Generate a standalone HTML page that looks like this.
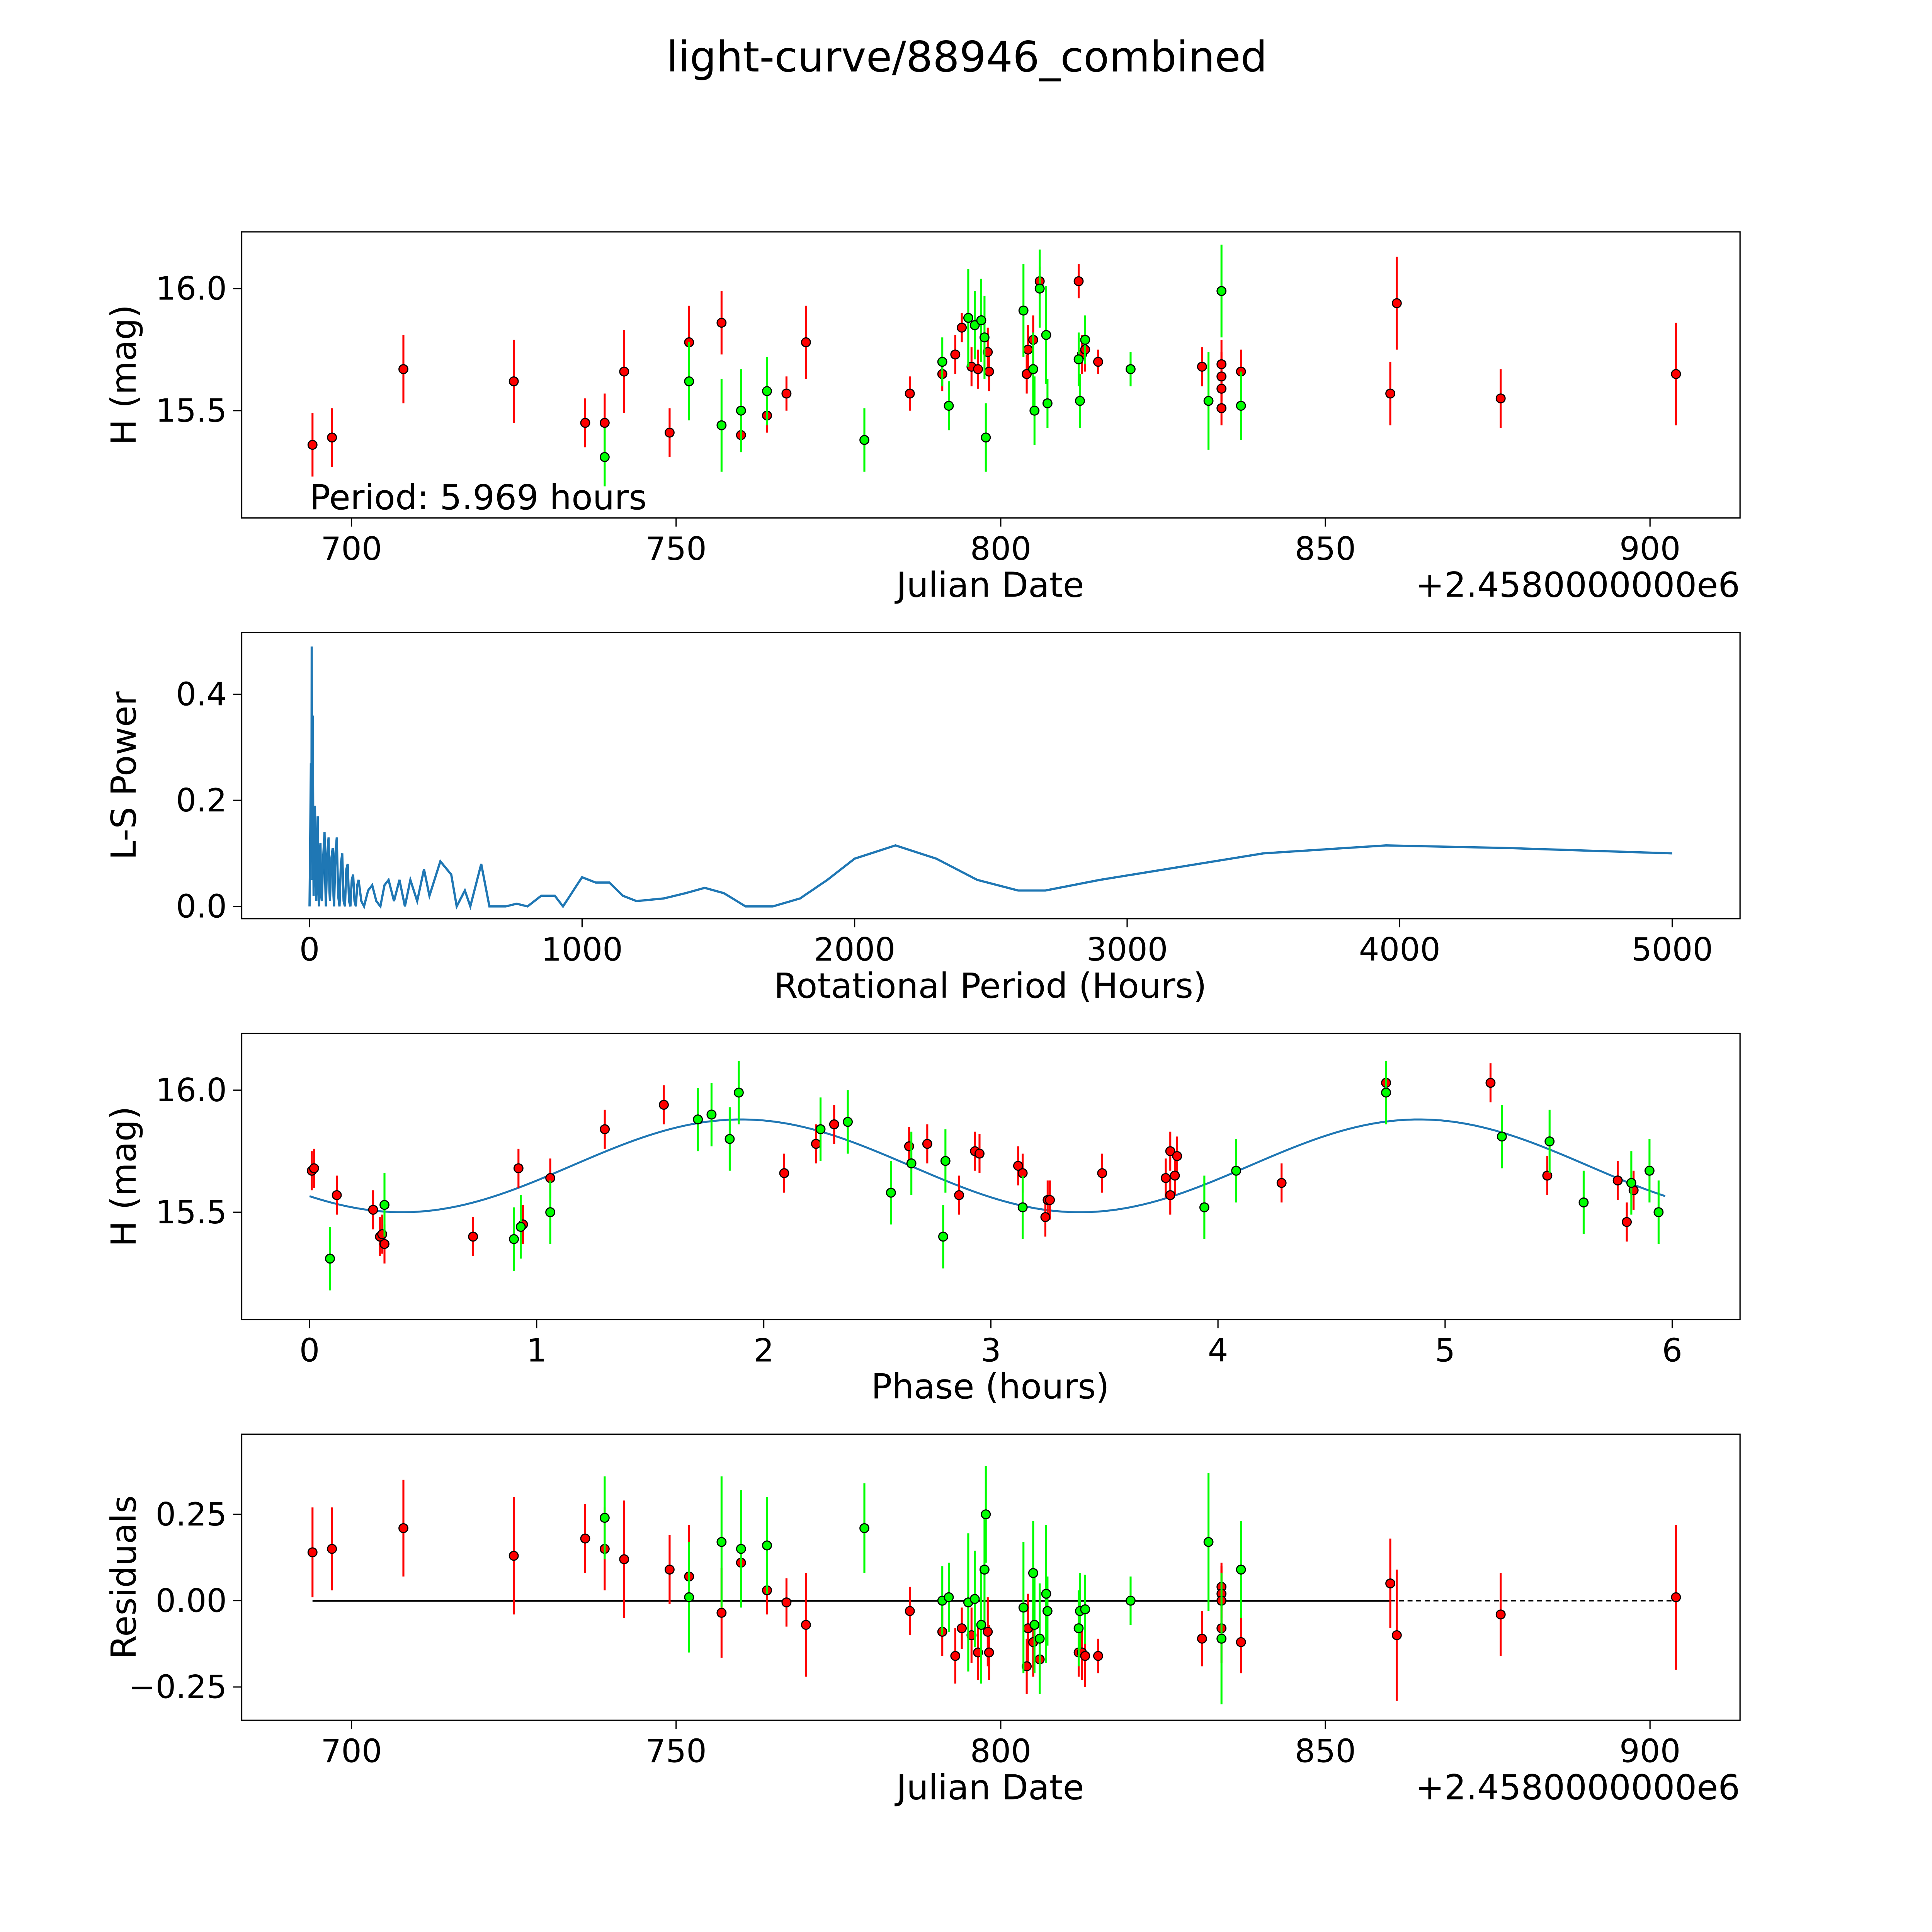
<!DOCTYPE html>
<html><head><meta charset="utf-8"><style>
html,body{margin:0;padding:0;background:#fff;overflow:hidden}
svg{display:block}
text{font-family:"DejaVu Sans","Liberation Sans",sans-serif;fill:#000}
</style></head><body>
<svg id="fig" width="5400" height="5400" viewBox="0 0 1692 1692" xmlns="http://www.w3.org/2000/svg">
<rect width="1692" height="1692" fill="#fff"/>
<text x="784" y="58" font-size="34" text-anchor="middle">light-curve/88946_combined</text>
</svg>
<script>
// ---- data ----
const lcRedJd=[694,697,708,725,736,739,742,749,752,757,760,764,767,770,786,791,793,794,795.5,796.5,798,798.2,804,804.2,805,806,812,812.5,813,815,831,834,834,834,834,837,860,861,877,904];
const lcRedMag=[15.36,15.39,15.67,15.62,15.45,15.45,15.66,15.41,15.78,15.86,15.4,15.48,15.57,15.78,15.57,15.65,15.73,15.84,15.68,15.67,15.74,15.66,15.65,15.75,15.79,16.03,16.03,15.73,15.75,15.7,15.68,15.51,15.59,15.64,15.69,15.66,15.57,15.94,15.55,15.65];
const lcRedErr=[0.13,0.12,0.14,0.17,0.1,0.12,0.17,0.1,0.15,0.13,0.05,0.07,0.07,0.15,0.07,0.07,0.08,0.06,0.08,0.08,0.1,0.08,0.08,0.1,0.1,0.06,0.07,0.08,0.09,0.05,0.08,0.07,0.07,0.1,0.1,0.09,0.13,0.19,0.12,0.21];
const lcGreenJd=[739,752,757,760,764,779,791,792,795,796,797,797.5,797.7,803.5,805,805.2,806,807,807.2,812,812.2,813,820,832,834,837];
const lcGreenMag=[15.31,15.62,15.44,15.5,15.58,15.38,15.7,15.52,15.88,15.85,15.87,15.8,15.39,15.91,15.67,15.5,16.0,15.81,15.53,15.71,15.54,15.79,15.67,15.54,15.99,15.52];
const lcGreenErr=[0.12,0.16,0.19,0.17,0.14,0.13,0.1,0.1,0.2,0.14,0.17,0.17,0.14,0.19,0.15,0.14,0.16,0.2,0.1,0.11,0.11,0.1,0.07,0.2,0.19,0.14];
const pgPeriod=[0,3,5,7,8,10,12,14,15,18,20,23,25,28,30,33,35,38,40,43,45,50,55,58,60,65,70,73,75,80,85,88,90,95,100,105,110,115,120,125,130,135,140,145,150,155,160,165,170,175,180,190,200,215,230,245,260,275,290,310,330,350,370,395,420,440,480,520,540,570,590,630,660,720,760,800,850,900,930,1000,1050,1100,1150,1200,1300,1380,1450,1520,1600,1700,1800,1900,2000,2150,2300,2450,2600,2700,2900,3200,3500,3950,4400,5000];
const pgPower=[0,0.15,0.27,0.1,0.49,0.05,0.36,0.1,0.02,0.15,0.19,0.05,0.01,0.12,0.17,0.03,0,0.1,0.12,0.02,0.01,0.09,0.14,0.04,0,0.1,0.13,0.03,0.01,0.09,0.11,0.02,0,0.1,0.13,0.02,0,0.08,0.1,0.01,0,0.07,0.08,0.01,0,0.05,0.06,0.01,0,0.04,0.05,0.01,0,0.03,0.04,0.01,0,0.04,0.05,0.01,0.05,0,0.05,0.01,0.07,0.02,0.085,0.06,0,0.03,0,0.08,0,0,0.005,0,0.02,0.02,0,0.055,0.045,0.045,0.02,0.01,0.015,0.025,0.035,0.025,0,0,0.015,0.05,0.09,0.115,0.09,0.05,0.03,0.03,0.05,0.075,0.1,0.115,0.11,0.1];
const phRed=[0.01,0.02,0.12,0.28,0.31,0.32,0.33,0.72,0.92,0.94,1.06,1.3,1.56,2.09,2.23,2.31,2.64,2.72,2.86,2.93,2.95,3.12,3.14,3.24,3.25,3.26,3.49,3.77,3.79,3.79,3.81,3.82,4.28,4.74,5.2,5.45,5.76,5.8,5.83];
const phRedMag=[15.67,15.68,15.57,15.51,15.4,15.41,15.37,15.4,15.68,15.45,15.64,15.84,15.94,15.66,15.78,15.86,15.77,15.78,15.57,15.75,15.74,15.69,15.66,15.48,15.55,15.55,15.66,15.64,15.57,15.75,15.65,15.73,15.62,16.03,16.03,15.65,15.63,15.46,15.59];
const phGreen=[0.09,0.33,0.9,0.93,1.06,1.71,1.77,1.85,1.89,2.25,2.37,2.56,2.65,2.79,2.8,3.14,3.94,4.08,4.74,5.25,5.46,5.61,5.82,5.9,5.94];
const phGreenMag=[15.31,15.53,15.39,15.44,15.5,15.88,15.9,15.8,15.99,15.84,15.87,15.58,15.7,15.4,15.71,15.52,15.52,15.67,15.99,15.81,15.79,15.54,15.62,15.67,15.5];
const phRedErr=0.08, phGreenErr=0.13;
const modelMean=15.69, modelAmp=0.19, modelPeak=1.9, modelHalfPeriod=2.985;
const resRed=[0.14,0.15,0.21,0.13,0.18,0.15,0.12,0.09,0.07,-0.035,0.11,0.03,-0.005,-0.07,-0.03,-0.09,-0.16,-0.08,-0.1,-0.15,-0.09,-0.15,-0.19,-0.08,-0.12,-0.17,-0.15,-0.15,-0.16,-0.16,-0.11,0.04,0.02,0,-0.08,-0.12,0.05,-0.1,-0.04,0.01];
const resGreen=[0.24,0.01,0.17,0.15,0.16,0.21,0,0.01,-0.005,0.005,-0.07,0.09,0.25,-0.02,0.08,-0.07,-0.11,0.02,-0.03,-0.08,-0.03,-0.025,0,0.17,-0.11,0.09];
const jdTicks=[700,750,800,850,900];
const pgTicksX=[0,1000,2000,3000,4000,5000];
const phTicksX=[0,1,2,3,4,5,6];
const magTicks=[15.5,16.0];
const pgTicksY=[0,0.2,0.4];
const resTicks=[-0.25,0,0.25];

const NS="http://www.w3.org/2000/svg";
const fig=document.getElementById('fig');
function mk(tag,attrs,parent,txt){const e=document.createElementNS(NS,tag);for(const k in attrs)e.setAttribute(k,attrs[k]);if(txt!==undefined)e.textContent=txt;(parent||fig).appendChild(e);return e;}
function lin(d0,d1,p0,p1){return v=>p0+(v-d0)*(p1-p0)/(d1-d0);}

function panel(name,top,xs,ys,xt,yt,xfmt,yfmt,xlabel,ylabel,offset){
  const g=mk('g',{});
  
  
  const frame=mk('rect',{x:196,y:top,width:1215,height:232,fill:'none',stroke:'#000','stroke-width':1},g);
  
  
  xt.forEach(t=>{const x=xs(t);mk('line',{x1:x,x2:x,y1:top+232,y2:top+239,stroke:'#000'},g);
    const l=mk('text',{x:x,y:top+266,'font-size':26,'text-anchor':'middle'},g,xfmt(t));
    
    });
  yt.forEach(t=>{const y=ys(t);mk('line',{x1:189,x2:196,y1:y,y2:y,stroke:'#000'},g);
    const l=mk('text',{x:184,y:y+9,'font-size':26,'text-anchor':'end'},g,yfmt(t));
    
    });
  const xl=mk('text',{x:803,y:top+296,'font-size':28,'text-anchor':'middle'},g,xlabel);
  
  
  const yl=mk('text',{x:0,y:0,'font-size':28,'text-anchor':'middle',transform:`translate(110,${top+116}) rotate(-90)`},g,ylabel);
  
  
  if(offset){const o=mk('text',{x:1411,y:top+296,'font-size':28,'text-anchor':'end'},g,offset);
    
    }
  const clip=mk('g',{},g);
  return clip;
}
function pts(g,xs,ys,xv,yv,ev,col,name){
  xv.forEach((x,i)=>{const e=Array.isArray(ev)?ev[i]:ev;const px=xs(x);
    const l=mk('line',{x1:px,x2:px,y1:ys(yv[i]-e),y2:ys(yv[i]+e),stroke:col,'stroke-width':1.6},g);
    
    });
  xv.forEach((x,i)=>{const c=mk('circle',{cx:xs(x),cy:ys(yv[i]),r:3.6,fill:col,stroke:'#000','stroke-width':0.9},g);
    
    });
}
const f1=v=>v.toFixed(1), f0=v=>String(v), f2=v=>(v<0?'\u22120':'0')+'.'+Math.abs(v).toFixed(2).split('.')[1];
const jdX=lin(700,900,285,1338);

// Panel 1
let ys1=lin(15.5,16.0,333,234);
let g1=panel('light-curve-panel',188,jdX,ys1,jdTicks,magTicks,f0,f1,'Julian Date','H (mag)','+2.4580000000e6');
pts(g1,jdX,ys1,lcRedJd,lcRedMag,lcRedErr,'#ff0000','red-band');
pts(g1,jdX,ys1,lcGreenJd,lcGreenMag,lcGreenErr,'#00ff00','green-band');
let pt=mk('text',{x:251,y:413,'font-size':28},g1,'Period: 5.969 hours');



// Panel 2
let xs2=lin(0,5000,251,1356), ys2=lin(0,0.4,735,563);
let g2=panel('periodogram-panel',513,xs2,ys2,pgTicksX,pgTicksY,f0,f1,'Rotational Period (Hours)','L-S Power');
let pl=mk('polyline',{points:pgPeriod.map((p,i)=>xs2(p)+','+ys2(pgPower[i])).join(' '),fill:'none',stroke:'#1f77b4','stroke-width':1.8},g2);



// Panel 3
let xs3=lin(0,6,251,1356), ys3=lin(15.5,16.0,983,884);
let g3=panel('phase-panel',838,xs3,ys3,phTicksX,magTicks,f0,f1,'Phase (hours)','H (mag)');
let mp=[];for(let i=0;i<=200;i++){const p=5.969*i/200;mp.push(xs3(p)+','+ys3(modelMean+modelAmp*Math.cos(2*Math.PI*(p-modelPeak)/modelHalfPeriod)));}
let ml=mk('polyline',{points:mp.join(' '),fill:'none',stroke:'#1f77b4','stroke-width':1.6},g3);


pts(g3,xs3,ys3,phRed,phRedMag,phRedErr,'#ff0000','red-phase');
pts(g3,xs3,ys3,phGreen,phGreenMag,phGreenErr,'#00ff00','green-phase');

// Panel 4
let ys4=lin(0,0.25,1298,1228);
let g4=panel('residuals-panel',1163,jdX,ys4,jdTicks,resTicks,f0,f2,'Julian Date','Residuals','+2.4580000000e6');
let z1=mk('line',{x1:jdX(694),x2:jdX(860),y1:ys4(0),y2:ys4(0),stroke:'#000','stroke-width':1.5},g4);


let z2=mk('line',{x1:jdX(860),x2:jdX(904),y1:ys4(0),y2:ys4(0),stroke:'#000','stroke-width':1.2,'stroke-dasharray':'4,3'},g4);


pts(g4,jdX,ys4,lcRedJd,resRed,lcRedErr,'#ff0000','red-residual');
pts(g4,jdX,ys4,lcGreenJd,resGreen,lcGreenErr,'#00ff00','green-residual');
</script>
</body></html>
